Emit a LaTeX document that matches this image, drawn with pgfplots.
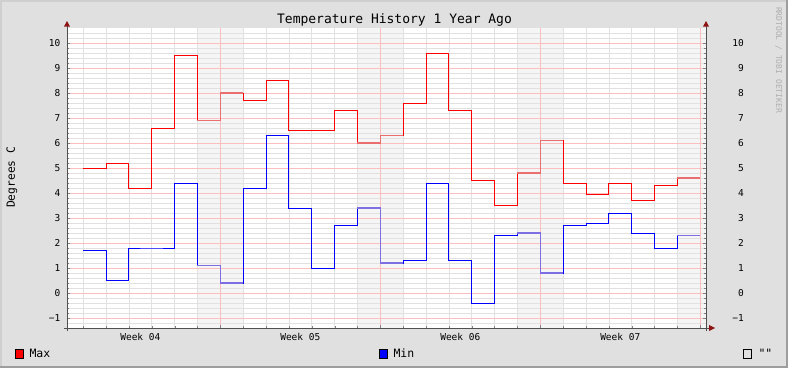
\documentclass[border=0pt]{standalone}
\usepackage{pgfplots}
\pgfplotsset{compat=1.18}
\usepackage{fontspec}
\setmainfont{DejaVu Sans Mono}[Ligatures=TeXOff]
\definecolor{bgc}{RGB}{224,224,224}
\definecolor{shadeA}{RGB}{207,207,207}
\definecolor{shadeB}{RGB}{158,158,158}
\definecolor{wkshade}{RGB}{245,245,245}
\definecolor{mingrid}{RGB}{225,225,225}
\definecolor{majgrid}{RGB}{250,190,190}
\definecolor{axisc}{RGB}{80,80,80}
\definecolor{arrowc}{RGB}{140,20,20}
\definecolor{maxc}{RGB}{255,0,0}
\definecolor{maxlight}{RGB}{235,110,110}
\definecolor{minc}{RGB}{0,0,255}
\definecolor{minlight}{RGB}{125,110,225}
\definecolor{wmark}{RGB}{175,175,175}
\pgfplotstableread{
x maxv minv
0 5.0 1.7
1 5.2 0.5
2 4.2 1.8
3 6.6 1.8
4 9.5 4.4
5 6.9 1.1
6 8.0 0.4
7 7.7 4.2
8 8.5 6.3
9 6.5 3.4
10 6.5 1.0
11 7.3 2.7
12 6.0 3.4
13 6.3 1.2
14 7.6 1.3
15 9.6 4.4
16 7.3 1.3
17 4.5 -0.4
18 3.5 2.3
19 4.8 2.4
20 6.1 0.8
21 4.4 2.7
22 3.95 2.8
23 4.4 3.2
24 3.7 2.4
25 4.3 1.8
26 4.6 2.3
27 4.6 2.3
}\tempdata
\begin{document}
\begin{tikzpicture}
\fill[bgc] (0pt,0pt) rectangle (788pt,368pt);
\fill[shadeA] (0pt,366pt) rectangle (788pt,368pt);
\fill[shadeA] (0pt,0pt) rectangle (2pt,368pt);
\fill[shadeB] (0pt,0pt) rectangle (788pt,2pt);
\fill[shadeB] (786pt,0pt) rectangle (788pt,368pt);
% plot canvas and weekend shading
\fill[white] (67pt,40pt) rectangle (706pt,340pt);
\fill[wkshade] (197.5pt,40pt) rectangle (243.2pt,340pt);
\fill[wkshade] (357.5pt,40pt) rectangle (403.2pt,340pt);
\fill[wkshade] (517.5pt,40pt) rectangle (563.2pt,340pt);
\fill[wkshade] (677.5pt,40pt) rectangle (706pt,340pt);
% grid (0.2 degree / 1 day minor, 1 degree / 1 week major)
\foreach \yy in {45,50,...,335} {\draw[mingrid, line width=0.7pt] (67pt,\yy pt) -- (706pt,\yy pt);}
\foreach \d in {0,...,26} {\pgfmathsetmacro\xx{83.2+22.857*\d}\draw[mingrid, line width=0.7pt] (\xx pt,40pt) -- (\xx pt,340pt);}
\foreach \yy in {50,75,...,325} {\draw[majgrid, line width=0.7pt] (67pt,\yy pt) -- (706pt,\yy pt);}
\foreach \xx in {220.3,380.3,540.3,700.3} {\draw[majgrid, line width=0.7pt] (\xx pt,40pt) -- (\xx pt,340pt);}
\begin{axis}[
  at={(67pt,40pt)}, anchor=south west,
  scale only axis, width=639pt, height=300pt,
  xmin=-0.709, xmax=27.25, ymin=-1.4, ymax=10.6,
  axis line style={draw=none},
  xtick={6,13,20,27}, xticklabels={},
  minor xtick={0,1,2,3,4,5,7,8,9,10,11,12,14,15,16,17,18,19,21,22,23,24,25,26},
  extra x ticks={2.5,9.5,16.5,23.5},
  extra x tick labels={Week 04,Week 05,Week 06,Week 07},
  extra x tick style={major tick length=0pt,
     xticklabel style={anchor=base, inner sep=0pt, yshift=-12pt}},
  xtick pos=bottom,
  ytick={-1,0,...,10},
  yticklabels={−1,0,1,2,3,4,5,6,7,8,9,10},
  yticklabel style={anchor=east, inner sep=0pt, xshift=-6.5pt},
  minor y tick num=4,
  grid=none,
  tick align=inside,
  major tick length=3pt, minor tick length=2pt,
  ticklabel style={font=\fontsize{9.5}{11}\selectfont},
  /pgf/number format/assume math mode=true,
]
\addplot[const plot, no marks, draw=maxc, line width=1pt] table[x=x, y=maxv] {\tempdata};
\addplot[const plot, no marks, draw=minc, line width=1pt] table[x=x, y=minv] {\tempdata};
% weekend segments in lighter colours
\addplot[const plot, no marks, draw=maxlight, line width=1.1pt] coordinates {(5,6.9) (6,8.0) (7,8.0)};
\addplot[const plot, no marks, draw=maxlight, line width=1.1pt] coordinates {(12,6.0) (13,6.3) (14,6.3)};
\addplot[const plot, no marks, draw=maxlight, line width=1.1pt] coordinates {(19,4.8) (20,6.1) (21,6.1)};
\addplot[const plot, no marks, draw=maxlight, line width=1.1pt] coordinates {(26,4.6) (27,4.6)};
\addplot[const plot, no marks, draw=minlight, line width=1.1pt] coordinates {(5,1.1) (6,0.4) (7,0.4)};
\addplot[const plot, no marks, draw=minlight, line width=1.1pt] coordinates {(12,3.4) (13,1.2) (14,1.2)};
\addplot[const plot, no marks, draw=minlight, line width=1.1pt] coordinates {(19,2.4) (20,0.8) (21,0.8)};
\addplot[const plot, no marks, draw=minlight, line width=1.1pt] coordinates {(26,2.3) (27,2.3)};
\end{axis}
\begin{axis}[
  at={(67pt,40pt)}, anchor=south west,
  scale only axis, width=639pt, height=300pt,
  xmin=-0.709, xmax=27.25, ymin=-1.4, ymax=10.6,
  axis line style={draw=none},
  xtick=\empty,
  ytick={-1,0,...,10},
  yticklabels={−1,0,1,2,3,4,5,6,7,8,9,10},
  yticklabel pos=right,
  ytick style={draw=none},
  tick align=inside,
  yticklabel style={anchor=east, inner sep=0pt, xshift=38pt, font=\fontsize{9.5}{11}\selectfont},
]
\addplot[draw=none] coordinates {(0,0)};
\end{axis}
% axis lines with arrows
\draw[axisc, line width=1pt] (64pt,40pt) -- (709pt,40pt);
\fill[arrowc] (715pt,40pt) -- (709pt,43pt) -- (709pt,37pt) -- cycle;
\draw[axisc, line width=1pt] (67pt,37pt) -- (67pt,342pt);
\fill[arrowc] (67pt,347pt) -- (64pt,341.5pt) -- (70pt,341.5pt) -- cycle;
\draw[axisc, line width=1pt] (706pt,37pt) -- (706pt,342pt);
\fill[arrowc] (706pt,347pt) -- (703pt,341.5pt) -- (709pt,341.5pt) -- cycle;
% title, labels
\node[anchor=base, inner sep=0pt, font=\fontsize{13}{15}\selectfont] at (394.5pt,344.7pt) {Temperature History 1 Year Ago};
\node[rotate=90, anchor=base, inner sep=0pt, font=\fontsize{11.3}{13}\selectfont] at (15pt,190.7pt) {Degrees C};
\node[rotate=-90, anchor=base, inner sep=0pt, text=wmark, font=\fontsize{8}{9}\selectfont] at (776pt,308pt) {RRDTOOL / TOBI OETIKER};
% legend
\draw[black, fill=maxc, line width=0.8pt] (15.5pt,10pt) rectangle (23.8pt,18.3pt);
\node[anchor=base west, inner sep=0pt, font=\fontsize{11.5}{13}\selectfont] at (29.3pt,10.6pt) {Max};
\draw[black, fill=minc, line width=0.8pt] (379.5pt,10pt) rectangle (387.8pt,18.3pt);
\node[anchor=base west, inner sep=0pt, font=\fontsize{11.5}{13}\selectfont] at (393.3pt,10.6pt) {Min};
\draw[black, line width=0.8pt] (743.5pt,10pt) rectangle (751.8pt,18.3pt);
\node[anchor=base west, inner sep=0pt, font=\fontsize{11.5}{13}\selectfont] at (758.3pt,10.6pt) {""};
\end{tikzpicture}
\end{document}
